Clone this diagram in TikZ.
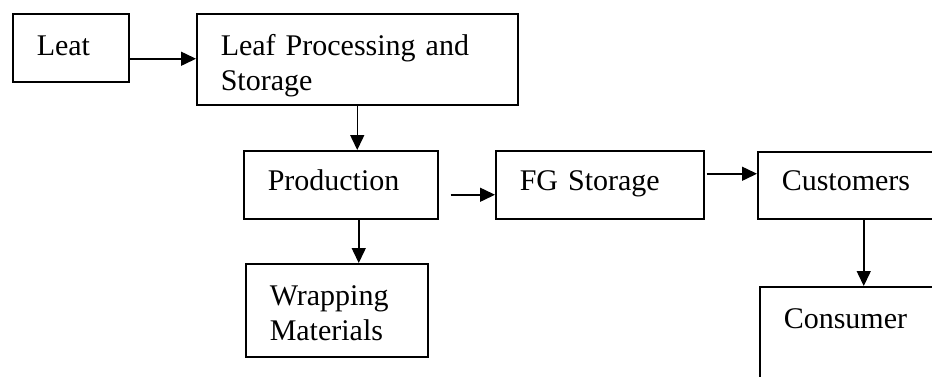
\documentclass[tikz,border=0pt]{standalone}
\usepackage{fontspec}
\setmainfont{Liberation Serif}
\usetikzlibrary{arrows.meta,positioning,calc}

\begin{document}
\begin{tikzpicture}[
    x=1pt, y=-1pt,
    flowbox/.style={draw, line width=1.5pt, anchor=north west, align=left,
        inner xsep=24pt, inner ysep=0pt, font=\fontsize{30}{35}\selectfont},
    flowarrow/.style={draw, line width=1.5pt, -{Triangle[length=15pt,width=14pt]}},
]
\useasboundingbox (0,0) rectangle (932,376);
\clip (0,0) rectangle (932,376);

% boxes
\node[flowbox, text width=68pt,  text height=42pt, text depth=26pt]  (leaf) at (12,13)   {Leat};
\node[flowbox, text width=273pt, text height=42pt, text depth=49pt]  (lps)  at (196,13)  {Leaf Processing and\\Storage};
\node[flowbox, text width=146pt, text height=40pt, text depth=28pt]  (prod) at (243,150) {Production};
\node[flowbox, text width=160pt, text height=40pt, text depth=28pt]  (fg)   at (495,150) {FG Storage};
\node[flowbox, text width=164pt, text height=39pt, text depth=28pt]  (cust) at (757,151) {Customers};
\node[flowbox, text width=134pt, text height=42pt, text depth=51pt]  (wrap) at (245,263) {Wrapping\\Materials};
\node[flowbox, text width=164pt, text height=42pt, text depth=150pt] (cons) at (759,286) {Consumer};

% connectors
\draw[flowarrow] ([yshift=-11pt]leaf.east) -- ([yshift=-11pt]leaf.east -| lps.west);
\draw[flowarrow] (lps.south) -- (lps.south |- prod.north);
\draw[flowarrow] ([shift={(12pt,-10pt)}]prod.east) -- ([yshift=-10pt]prod.east -| fg.west);
\draw[flowarrow] ([xshift=18pt]prod.south) -- ([xshift=18pt]prod.south |- wrap.north);
\draw[flowarrow] ([shift={(2pt,11pt)}]fg.east) -- ([yshift=11pt]fg.east -| cust.west);
\draw[flowarrow] (cust.south) -- (cust.south |- cons.north);
\end{tikzpicture}
\end{document}
